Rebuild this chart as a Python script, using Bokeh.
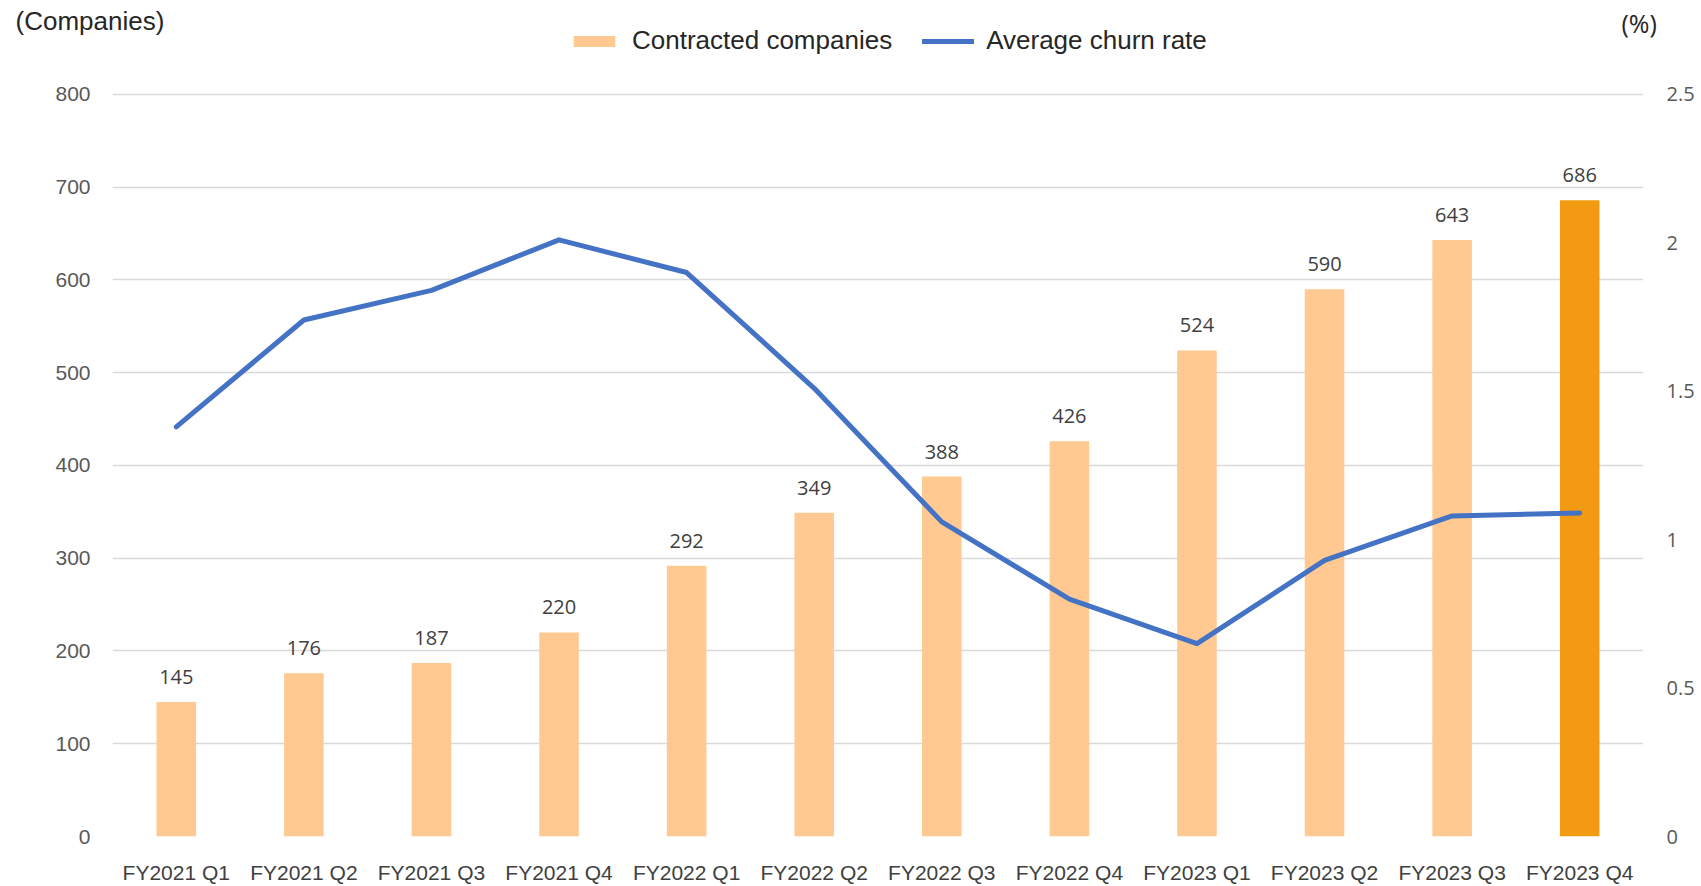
from bokeh.plotting import figure
from bokeh.layouts import column, row
from bokeh.models import (Range1d, LinearAxis, FixedTicker, NumeralTickFormatter, ColumnDataSource,
                          LabelSet, Label, Legend, LegendItem, FactorRange)
from bokeh.core.properties import value
from bokeh.embed import file_html
from bokeh.resources import INLINE

quarters = ["FY2021 Q1", "FY2021 Q2", "FY2021 Q3", "FY2021 Q4",
            "FY2022 Q1", "FY2022 Q2", "FY2022 Q3", "FY2022 Q4",
            "FY2023 Q1", "FY2023 Q2", "FY2023 Q3", "FY2023 Q4"]
companies = [145, 176, 187, 220, 292, 349, 388, 426, 524, 590, 643, 686]
churn_rate = [1.38, 1.74, 1.84, 2.01, 1.90, 1.51, 1.06, 0.80, 0.65, 0.93, 1.08, 1.09]
left_ticks = [0, 100, 200, 300, 400, 500, 600, 700, 800]
right_ticks = [0, 0.5, 1, 1.5, 2, 2.5]

LIGHT = "#FFC991"
DARK = "#F29A12"
BLUE = "#4472C4"
bar_colors = [LIGHT] * (len(quarters) - 1) + [DARK]

src = ColumnDataSource(dict(q=quarters, c=companies, r=churn_rate, col=bar_colors,
                            lbl=[str(v) for v in companies]))

TOTAL_W = 1700
HEAD_H = 80
LEFT, FW, FH = 112, 1531, 743

# ---------------- header: unit titles + legend ----------------
head = figure(width=TOTAL_W, height=HEAD_H, x_range=Range1d(0, TOTAL_W), y_range=Range1d(HEAD_H, 0),
              x_axis_type=None, y_axis_type=None, output_backend="svg", toolbar_location=None,
              min_border=0, min_border_left=0, min_border_right=0, min_border_top=0,
              min_border_bottom=0)
head.outline_line_color = None
head.xgrid.visible = False
head.ygrid.visible = False
head.background_fill_color = "white"
head.border_fill_color = "white"

# legend proxies (drawn outside the visible range, same styling as the chart glyphs)
proxy_bar = head.vbar(x=[-200], top=[1], bottom=[0], width=1, fill_color=LIGHT, line_color=None)
proxy_line = head.line(x=[-200, -190], y=[0, 0], line_color=BLUE, line_width=5, line_cap="round")

legend = Legend(items=[LegendItem(label="Contracted companies", renderers=[proxy_bar]),
                       LegendItem(label="Average churn rate", renderers=[proxy_line])],
                orientation="horizontal", location=(568, HEAD_H - 26 - 30),
                glyph_width=52, glyph_height=14, label_standoff=12, spacing=30,
                padding=0, margin=0, border_line_color=None, background_fill_alpha=0,
                label_text_font="Liberation Sans", label_text_font_size="26px",
                label_text_color="#262626")
head.add_layout(legend, "center")

head.add_layout(Label(x=15, y=20, text="(Companies)", text_font="Liberation Sans",
                      text_font_size="26px", text_color="#262626", text_baseline="middle"))
head.add_layout(Label(x=1621, y=22, text="(%)", text_font="Open Sans",
                      text_font_size="25px", text_color="#262626", text_baseline="middle"))

# ---------------- main chart ----------------
p = figure(frame_width=FW, frame_height=FH, x_range=FactorRange(*quarters), y_range=Range1d(0, 801),
           output_backend="svg", toolbar_location=None,
           min_border_left=LEFT, min_border_right=TOTAL_W - LEFT - FW, min_border_top=13,
           min_border_bottom=49)
p.outline_line_color = None
p.background_fill_color = "white"
p.border_fill_color = "white"
p.x_range.range_padding = 0
p.extra_y_ranges = {"pct": Range1d(0, 2.5 * 801 / 800)}

p.yaxis.ticker = FixedTicker(ticks=left_ticks)
p.yaxis.axis_line_color = None
p.yaxis.major_tick_line_color = None
p.yaxis.minor_tick_line_color = None
p.yaxis.major_label_standoff = 16
p.yaxis.major_label_text_font = "Liberation Sans"
p.yaxis.major_label_text_font_size = "21px"
p.yaxis.major_label_text_color = "#595959"

ra = LinearAxis(y_range_name="pct", ticker=FixedTicker(ticks=right_ticks),
                formatter=NumeralTickFormatter(format="0.[0]"))
ra.axis_line_color = None
ra.major_tick_line_color = None
ra.minor_tick_line_color = None
ra.major_label_standoff = 17
ra.major_label_text_font = "Open Sans"
ra.major_label_text_font_size = "20px"
ra.major_label_text_color = "#595959"
p.add_layout(ra, "right")

p.xaxis.axis_line_color = None
p.xaxis.major_tick_line_color = None
p.xaxis.minor_tick_line_color = None
p.xaxis.major_label_standoff = 18
p.xaxis.major_label_text_font = "Liberation Sans"
p.xaxis.major_label_text_font_size = "21px"
p.xaxis.major_label_text_color = "#404040"

p.xgrid.grid_line_color = None
p.ygrid.grid_line_color = "#D9D9D9"
p.ygrid.grid_line_width = 1.5

bars = p.vbar(x="q", top="c", width=0.31, source=src, fill_color="col", line_color=None)

labels = LabelSet(x="q", y="c", text="lbl", source=src, y_offset=25, text_align="center",
                  text_baseline="middle", text_font=value("Open Sans"), text_font_size=value("20px"),
                  text_color=value("#404040"))
p.add_layout(labels)

line = p.line(x="q", y="r", source=src, y_range_name="pct", line_color=BLUE, line_width=5,
              line_join="round", line_cap="round")

layout = column(row(head, spacing=0), p, spacing=0)
open("out.html", "w").write(file_html(layout, INLINE))
